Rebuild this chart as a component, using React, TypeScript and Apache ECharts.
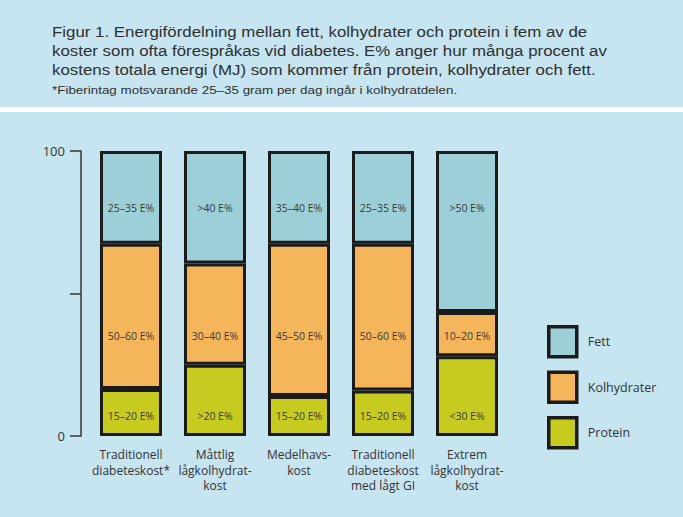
import React, { useEffect, useRef } from "react";
import * as echarts from "echarts";

const categories = [
  "Traditionell\ndiabeteskost*",
  "Måttlig\nlågkolhydrat-\nkost",
  "Medelhavs-\nkost",
  "Traditionell\ndiabeteskost\nmed lågt GI",
  "Extrem\nlågkolhydrat-\nkost",
];
const proteinValues = [16.5, 25, 14, 16, 28];
const kolhydratValues = [51, 35.5, 53.5, 51.5, 15.5];
const fettValues = [32.5, 39.5, 32.5, 32.5, 56.5];
const proteinLabels = ["15–20 E%", ">20 E%", "15–20 E%", "15–20 E%", "<30 E%"];
const kolhydratLabels = ["50–60 E%", "30–40 E%", "45–50 E%", "50–60 E%", "10–20 E%"];
const fettLabels = ["25–35 E%", ">40 E%", "35–40 E%", "25–35 E%", ">50 E%"];
const yTicks = [0, 50, 100];
const titleLines = [
  "Figur 1. Energifördelning mellan fett, kolhydrater och protein i fem av de",
  "koster som ofta förespråkas vid diabetes. E% anger hur många procent av",
  "kostens totala energi (MJ) som kommer från protein, kolhydrater och fett.",
];
const footnote = "*Fiberintag motsvarande 25–35 gram per dag ingår i kolhydratdelen.";

// label heights (in axis units) where the in-bar texts sit
const labelAnchor = { protein: 7, kolh: 35, fett: 80 };

const COLORS = { fett: "#9ccfd8", kolh: "#f5b65b", protein: "#c8cb1f" };
const BORDER = "#1b1b1b";

function buildData(values: number[], bases: number[], labels: string[], anchor: number) {
  return values.map((v, i) => {
    const top = bases[i] + v;
    const pct = ((top - anchor) / v) * 100;
    return {
      value: v,
      label: {
        show: true,
        formatter: labels[i],
        position: ["50%", pct + "%"],
        align: "center",
        verticalAlign: "middle",
      },
    };
  });
}

export default function App() {
  const ref = useRef<HTMLDivElement>(null);
  useEffect(() => {
    if (!ref.current) return;
    const chart = echarts.init(ref.current, null, { renderer: "svg" });
    const zeros = proteinValues.map(() => 0);
    const kolhBase = proteinValues.slice();
    const fettBase = proteinValues.map((p, i) => p + kolhydratValues[i]);
    const labelStyle = { fontFamily: "Open Sans", fontSize: 10.5, color: "#3a3a3a" };
    const itemStyle = (c: string) => ({ color: c, borderColor: BORDER, borderWidth: 3 });
    const titleY = [32, 51, 70];
    const titleText = titleLines.map((t, i) => ({
      type: "text",
      x: 52,
      y: titleY[i],
      scaleX: 1.125,
      silent: true,
      style: {
        text: t,
        fontFamily: "Liberation Sans",
        fontSize: 15,
        fill: "#2f2f2f",
        verticalAlign: "middle",
      },
    }));
    chart.setOption({
      animation: false,
      backgroundColor: "#c6e5f1",
      graphic: [
        { type: "rect", shape: { x: 0, y: 107, width: 683, height: 5 }, style: { fill: "#ffffff" }, silent: true },
        ...titleText,
        {
          type: "text",
          x: 52,
          y: 90,
          scaleX: 1.22,
          silent: true,
          style: {
            text: footnote,
            fontFamily: "Liberation Sans",
            fontSize: 11,
            fill: "#2f2f2f",
            verticalAlign: "middle",
          },
        },
      ],
      legend: {
        orient: "vertical",
        left: 547,
        top: 325,
        padding: 0,
        itemWidth: 28,
        itemHeight: 30,
        itemGap: 12,
        icon: "rect",
        data: ["Fett", "Kolhydrater", "Protein"],
        textStyle: { fontFamily: "Open Sans", fontSize: 12.5, color: "#333", padding: [0, 0, 0, 6] },
        itemStyle: { borderColor: BORDER, borderWidth: 3.5 },
      },
      grid: { left: 89, top: 151, width: 420, height: 285 },
      xAxis: {
        type: "category",
        data: categories,
        axisLine: { show: false },
        axisTick: { show: false },
        axisLabel: {
          margin: 11,
          fontFamily: "Open Sans",
          fontSize: 12,
          lineHeight: 15.5,
          color: "#333",
          interval: 0,
        },
      },
      yAxis: {
        type: "value",
        min: yTicks[0],
        max: yTicks[yTicks.length - 1],
        interval: 50,
        offset: 8,
        splitLine: { show: false },
        axisLine: { show: true, lineStyle: { color: "#333", width: 1.5 } },
        axisTick: { show: true, length: 11, lineStyle: { color: "#333", width: 1.5 } },
        axisLabel: {
          margin: 16,
          fontFamily: "Open Sans",
          fontSize: 13,
          color: "#333",
          formatter: (v: number) => (v === 50 ? "" : String(v)),
        },
      },
      series: [
        {
          name: "Protein",
          type: "bar",
          stack: "e",
          barWidth: 62,
          itemStyle: itemStyle(COLORS.protein),
          label: labelStyle,
          data: buildData(proteinValues, zeros, proteinLabels, labelAnchor.protein),
        },
        {
          name: "Kolhydrater",
          type: "bar",
          stack: "e",
          barWidth: 62,
          itemStyle: itemStyle(COLORS.kolh),
          label: labelStyle,
          data: buildData(kolhydratValues, kolhBase, kolhydratLabels, labelAnchor.kolh),
        },
        {
          name: "Fett",
          type: "bar",
          stack: "e",
          barWidth: 62,
          itemStyle: itemStyle(COLORS.fett),
          label: labelStyle,
          data: buildData(fettValues, fettBase, fettLabels, labelAnchor.fett),
        },
      ],
    });
    return () => chart.dispose();
  }, []);
  return (
    <div
      ref={ref}
      style={{ position: "fixed", left: 0, top: 0, width: 683, height: 517 }}
    />
  );
}
